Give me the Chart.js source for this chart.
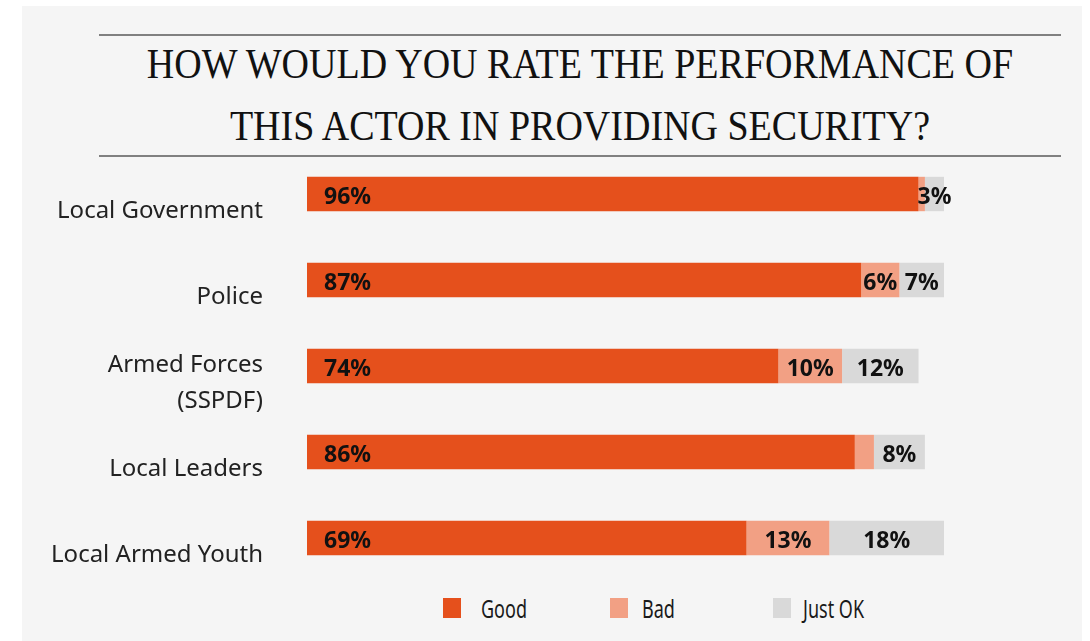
<!DOCTYPE html>
<html>
<head>
<meta charset="utf-8">
<script src="https://cdn.jsdelivr.net/npm/chart.js@4"></script>
<style>
  body { margin: 0; background: #fff; width: 1090px; height: 641px; overflow: hidden; position: relative; }
  #panel { position: absolute; left: 22px; top: 6px; width: 1060px; height: 635px; background: #f5f5f5; }
  .rule { position: absolute; left: 99px; width: 962px; height: 2px; background: #808080; }
  .title { position: absolute; left: 99px; width: 962px; text-align: center; font: 38px "Liberation Serif"; line-height: 38px; color: #111;
           white-space: nowrap; transform: scaleY(1.1); transform-origin: 50% 32px; }
  #wrap { position: absolute; left: 22px; top: 151px; width: 1060px; height: 430px; }
  .leg { position: absolute; top: 598px; font: 25px "Noto Sans"; color: #1a1a1a; line-height: 20px; }
  .leg span { position: absolute; top: 0; width: 18px; height: 20px; }
  .leg div { position: absolute; top: 0; white-space: nowrap; transform: scaleX(0.72); transform-origin: 0 50%; }
</style>
</head>
<body>
<div id="panel"></div>
<div class="rule" style="top:34px"></div>
<div class="title" style="top:46px">HOW WOULD YOU RATE THE PERFORMANCE OF</div>
<div class="title" style="top:108px">THIS ACTOR IN PROVIDING SECURITY?</div>
<div class="rule" style="top:155px"></div>
<div id="wrap"><canvas id="chart"></canvas></div>
<div id="legend"></div>
<script>
// survey answers, percent
let actors = ['Local Government', 'Police', ['Armed Forces', '(SSPDF)'], 'Local Leaders', 'Local Armed Youth'];
let good = [96, 87, 74, 86, 69];
let bad = [1, 6, 10, 3, 13];
let justOk = [3, 7, 12, 8, 18];
// which segments carry a printed value
let showGood = [true, true, true, true, true];
let showBad = [false, true, true, false, true];
let showOk = [true, true, true, true, true];

let seriesNames = ['Good', 'Bad', 'Just OK'];
let colors = ['#e5501c', '#f2a084', '#d9d9d9'];

const barLabels = {
    id: 'barLabels',
    afterDatasetsDraw(chart) {
        const ctx = chart.ctx;
        const shows = [showGood, showBad, showOk];
        ctx.save();
        ctx.font = 'bold 23px "Noto Sans"';
        ctx.fillStyle = '#111';
        ctx.textBaseline = 'middle';
        chart.data.datasets.forEach((ds, i) => {
            chart.getDatasetMeta(i).data.forEach((bar, j) => {
                if (!shows[i][j]) return;
                const txt = ds.data[j] + '%';
                if (i === 0) {
                    ctx.textAlign = 'left';
                    ctx.fillText(txt, bar.base + 17, bar.y + 3);
                } else {
                    ctx.textAlign = 'center';
                    ctx.fillText(txt, (bar.base + bar.x) / 2, bar.y + 3);
                }
            });
        });
        ctx.restore();
    }
};

new Chart(document.getElementById('chart'), {
    type: 'bar',
    data: {
        labels: actors,
        datasets: [good, bad, justOk].map((d, i) => ({
            label: seriesNames[i],
            data: d,
            backgroundColor: colors[i],
            borderWidth: 0,
            barPercentage: 0.4,
            categoryPercentage: 1
        }))
    },
    options: {
        indexAxis: 'y',
        responsive: true,
        maintainAspectRatio: false,
        animation: false,
        layout: { padding: { left: 0, right: 138, top: 0, bottom: 0 } },
        plugins: { legend: { display: false }, tooltip: { enabled: false } },
        scales: {
            x: { stacked: true, min: 0, max: 100, display: false },
            y: {
                stacked: true,
                grid: { display: false, drawTicks: false },
                border: { display: false },
                ticks: {
                    padding: 44,
                    labelOffset: 17,
                    color: '#222',
                    font: { family: 'Noto Sans', size: 24, lineHeight: 1.5 }
                },
                afterFit(scale) {
                    scale.width = 285;
                    scale.paddingTop = 0;
                    scale.paddingBottom = 0;
                }
            }
        }
    },
    plugins: [barLabels]
});

// legend
let legendX = [443, 610, 773];
let textGap = [38, 32, 30];
let legend = document.getElementById('legend');
seriesNames.forEach((name, i) => {
    legend.innerHTML += `
        <div class="leg" style="left:${legendX[i]}px">
            <span style="left:0;background:${colors[i]}"></span>
            <div style="left:${textGap[i]}px">${name}</div>
        </div>`;
});
</script>
</body>
</html>
